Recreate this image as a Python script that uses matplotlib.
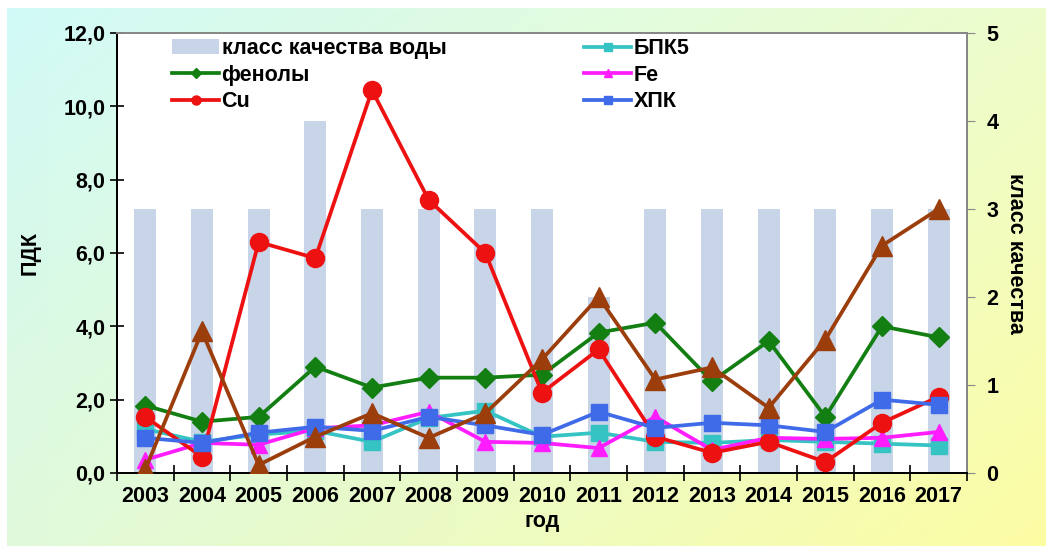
import numpy as np
import matplotlib
matplotlib.use('Agg')
import matplotlib.pyplot as plt

plt.rcParams['font.family'] = ['Liberation Sans', 'DejaVu Sans']
plt.rcParams['font.weight'] = 'bold'

# данные
years = ['2003', '2004', '2005', '2006', '2007', '2008', '2009', '2010',
         '2011', '2012', '2013', '2014', '2015', '2016', '2017']
klass = [3, 3, 3, 4, 3, 3, 3, 3, 2, 3, 3, 3, 3, 3, 3]
fenoly = [1.84, 1.40, 1.53, 2.90, 2.33, 2.60, 2.60, 2.68, 3.83, 4.10, 2.50, 3.60, 1.53, 4.00, 3.70]
bpk5 = [1.20, 0.85, 1.05, 1.15, 0.85, 1.50, 1.70, 0.99, 1.10, 0.85, 0.82, 0.90, 0.85, 0.80, 0.75]
fe = [0.36, 0.82, 0.77, 1.22, 1.30, 1.67, 0.85, 0.82, 0.68, 1.53, 0.63, 0.96, 0.93, 0.96, 1.12]
cu = [1.53, 0.44, 6.30, 5.86, 10.44, 7.45, 6.00, 2.19, 3.37, 0.99, 0.55, 0.85, 0.30, 1.37, 2.08]
hpk = [0.96, 0.82, 1.10, 1.26, 1.15, 1.53, 1.30, 1.04, 1.67, 1.23, 1.37, 1.30, 1.12, 2.00, 1.86]
brown = [0.10, 3.86, 0.22, 0.99, 1.63, 0.96, 1.63, 3.10, 4.80, 2.55, 2.88, 1.78, 3.64, 6.20, 7.20]

W, H = 1046, 546
fig = plt.figure(figsize=(W / 100, H / 100), dpi=100)
fig.patch.set_facecolor('white')

# фон - диагональный градиент
bg = fig.add_axes([7 / W, 0, 1 - 7 / W, 1 - 8 / H])
bg.set_axis_off()
tl = np.array([0.82, 0.98, 0.97])
tr = np.array([0.93, 0.99, 0.80])
bl = np.array([0.88, 0.98, 0.86])
br = np.array([0.99, 0.99, 0.64])
u = np.linspace(0, 1, 200)[None, :, None]
v = np.linspace(0, 1, 120)[:, None, None]
grad = (1 - v) * ((1 - u) * tl + u * tr) + v * ((1 - u) * bl + u * br)
bg.imshow(grad, aspect='auto', extent=[0, 1, 0, 1])
bg.set_xlim(0, 1)
bg.set_ylim(0, 1)

rect = [117 / W, (H - 473) / H, (967 - 117) / W, (473 - 33) / H]
ax2 = fig.add_axes(rect)
ax = fig.add_axes(rect, sharex=ax2)
ax2.set_facecolor('white')
ax.patch.set_visible(False)

x = np.arange(len(years))
fs = 15.5

# столбцы - класс качества (правая ось)
ax2.bar(x, klass, width=0.39, color='#c8d4e8', zorder=1, label='класс качества воды')
ax2.set_ylim(0, 5)
ax2.set_yticks(range(0, 6))
ax2.yaxis.tick_right()
ax2.yaxis.set_label_position('right')
ax2.set_ylabel('класс качества', rotation=-90, fontsize=fs, fontweight='bold', labelpad=20)

lw = 2.7
ms = 12
ax.plot(x, fenoly, color='#137f13', lw=lw, marker='D', ms=ms - 2, label='фенолы', zorder=3)
ax.plot(x, bpk5, color='#35c3c3', lw=lw, marker='s', ms=ms, label='БПК5', zorder=3)
ax.plot(x, fe, color='#ff1cff', lw=lw, marker='^', ms=ms, label='Fe', zorder=3)
ax.plot(x, cu, color='#ee1111', lw=lw, marker='o', ms=ms + 1, label='Cu', zorder=3)
ax.plot(x, hpk, color='#3f6ae8', lw=lw, marker='s', ms=ms, label='ХПК', zorder=3)
ax.plot(x, brown, color='#9c3d0c', lw=lw, marker='^', ms=ms + 2, zorder=3)

ax.set_ylim(0, 12)
ax.set_xlim(-0.5, len(years) - 0.5)
yt = np.arange(0, 12.1, 2)
ax.set_yticks(yt)
ax.set_yticklabels([('%.1f' % t).replace('.', ',') for t in yt])
ax.set_ylabel('ПДК', fontsize=fs, fontweight='bold', labelpad=16)

# подписи годов по центрам, засечки по границам
ax.set_xticks(np.arange(-0.5, len(years)), minor=False)
ax.set_xticklabels([''] * (len(years) + 1))
ax.set_xticks(x, minor=True)
ax.set_xticklabels(years, minor=True, fontsize=fs, fontweight='bold')
ax.tick_params(axis='x', which='minor', length=0, pad=9)
ax.tick_params(axis='x', which='major', direction='inout', length=12, width=1.2)
ax.tick_params(axis='y', direction='inout', length=10, width=1.2, labelsize=fs)
ax2.tick_params(axis='y', direction='out', length=6, color='#888888', labelsize=fs, pad=8)
ax2.tick_params(axis='x', which='both', bottom=False, labelbottom=False)
ax.set_xlabel('год', fontsize=fs, fontweight='bold', labelpad=3)

for a in (ax, ax2):
    a.spines['top'].set_color('#888888')
    a.spines['right'].set_color('#888888')
    a.spines['left'].set_color('black')
    a.spines['bottom'].set_color('black')
    for s in a.spines.values():
        s.set_linewidth(1.4)

h1, l1 = ax2.get_legend_handles_labels()
h2, l2 = ax.get_legend_handles_labels()
hd = dict(zip(l1 + l2, h1 + h2))
order = ['класс качества воды', 'фенолы', 'Cu', 'БПК5', 'Fe', 'ХПК']
leg = ax.legend([hd[k] for k in order], order, ncol=2, loc='upper left',
                bbox_to_anchor=(55 / 850, 0.988), frameon=False, borderaxespad=0,
                borderpad=0, handlelength=2.2, handletextpad=0.1,
                labelspacing=0.26, columnspacing=6.4, markerscale=0.5,
                prop={'weight': 'bold', 'size': fs})

fig.savefig('out.png', dpi=100)
